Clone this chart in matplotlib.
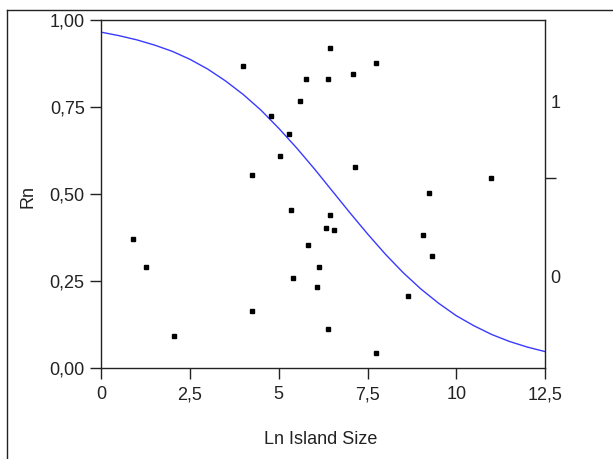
import matplotlib
matplotlib.use("Agg")
import matplotlib.pyplot as plt
from matplotlib.lines import Line2D
from matplotlib.ticker import FixedLocator

# ---------- data ---------------------------------------------------------

ln_size = [4.00, 6.43, 7.73, 5.77, 6.38, 7.10, 5.61, 4.78, 5.29, 5.03,
           4.25, 7.15, 5.34, 6.43, 6.33, 6.55, 5.81, 0.90, 1.27, 6.12,
           5.40, 6.08, 8.65, 4.25, 6.39, 2.04, 7.73, 10.99, 9.23, 9.07,
           9.32]
rn = [0.868, 0.920, 0.877, 0.830, 0.830, 0.846, 0.767, 0.724, 0.672, 0.609,
      0.556, 0.577, 0.455, 0.440, 0.402, 0.397, 0.355, 0.370, 0.292, 0.292,
      0.260, 0.233, 0.208, 0.165, 0.112, 0.092, 0.044, 0.545, 0.502, 0.382,
      0.323]

# fitted curve, sampled every 0.5 along x
curve_x = [0.0, 0.5, 1.0, 1.5, 2.0, 2.5, 3.0, 3.5, 4.0, 4.5, 5.0, 5.5, 6.0,
           6.5, 7.0, 7.5, 8.0, 8.5, 9.0, 9.5, 10.0, 10.5, 11.0, 11.5, 12.0,
           12.5]
curve_y = [0.965, 0.955, 0.943, 0.928, 0.910, 0.887, 0.859, 0.825, 0.786,
           0.741, 0.689, 0.633, 0.573, 0.510, 0.447, 0.386, 0.328, 0.275,
           0.228, 0.187, 0.151, 0.122, 0.097, 0.077, 0.061, 0.048]

x_ticks = [0, 2.5, 5, 7.5, 10, 12.5]
x_labels = ["0", "2,5", "5", "7,5", "10", "12,5"]
y_ticks = [0, 0.25, 0.5, 0.75, 1.0]
y_labels = ["0,00", "0,25", "0,50", "0,75", "1,00"]
right_ticks = [0.265, 0.765]
right_labels = ["0", "1"]
right_mid_tick = [0.547]

# ---------- plot ----------------------------------------------------------

plt.rcParams["font.family"] = ["Liberation Sans", "DejaVu Sans"]
FS = 13

W, H = 613, 459
fig = plt.figure(figsize=(W / 100, H / 100), dpi=100)
ax = fig.add_axes([101.3 / W, (H - 368.3) / H, 443.7 / W, 348.3 / H])

ax.plot(curve_x, curve_y, color="#3a3aff", linewidth=1.0)
ax.plot(ln_size, rn, linestyle="none", marker="s", markersize=2.4,
        color="black")

ax.set_xlim(0, 12.5)
ax.set_ylim(0, 1)
ax.set_xticks(x_ticks)
ax.set_xticklabels(x_labels)
ax.set_yticks(y_ticks)
ax.set_yticklabels(y_labels)
ax.tick_params(direction="out", length=8, width=1.0, labelsize=FS,
               colors="#222222")
ax.tick_params(axis="y", pad=4)
ax.tick_params(axis="x", pad=5)
for sp in ax.spines.values():
    sp.set_linewidth(1.0)
    sp.set_color("#222222")

# right-hand axis: two labels without tick marks, one bare tick between
ax2 = ax.twinx()
ax2.set_ylim(0, 1)
ax2.set_yticks(right_ticks)
ax2.set_yticklabels(right_labels)
ax2.tick_params(axis="y", which="major", length=0, pad=4, labelsize=FS,
                colors="#222222")
ax2.yaxis.set_minor_locator(FixedLocator(right_mid_tick))
ax2.tick_params(axis="y", which="minor", direction="out", length=8,
                width=1.0, colors="#222222")
for sp in ax2.spines.values():
    sp.set_visible(False)

fig.text(28 / W, 1 - 196 / H, "Rn", rotation=90, ha="center", va="center",
         fontsize=FS, color="#222222")
fig.text(321 / W, 1 - 440 / H, "Ln Island Size", ha="center", va="center",
         fontsize=FS, color="#222222")

# outer chart frame (runs off the right and bottom edges)
fig.add_artist(Line2D([7.3 / W, 7.3 / W], [0, 1 - 10 / H],
                      transform=fig.transFigure, color="#222222",
                      linewidth=1.0))
fig.add_artist(Line2D([7.3 / W, 1], [1 - 10 / H, 1 - 10 / H],
                      transform=fig.transFigure, color="#222222",
                      linewidth=1.0))

fig.savefig("out.png", dpi=100)
plt.close(fig)
